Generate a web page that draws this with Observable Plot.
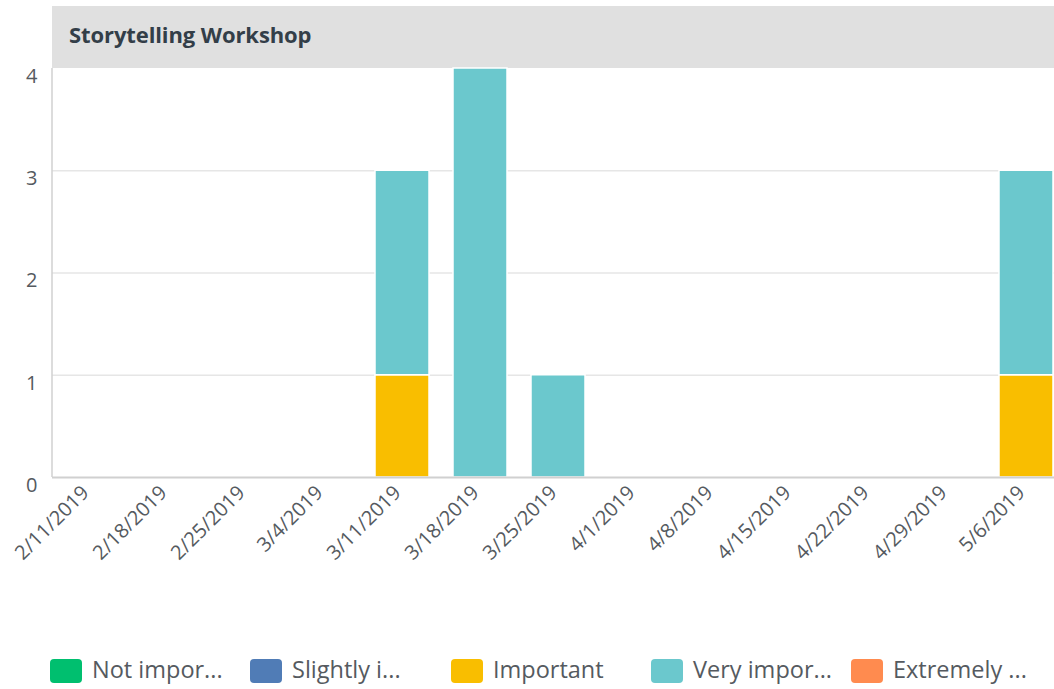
<!DOCTYPE html>
<html>
<head>
<meta charset="utf-8">
<script src="https://cdn.jsdelivr.net/npm/d3@7"></script>
<script src="https://cdn.jsdelivr.net/npm/@observablehq/plot@0.6"></script>
<style>
  html, body { margin: 0; padding: 0; background: #fff; overflow: hidden; }
  body { width: 1054px; height: 689px; position: relative; font-family: "Open Sans", sans-serif; }
  #header { position: absolute; left: 52px; top: 6px; width: 1002px; height: 62px; background: #e0e0e0; }
  #header span { position: absolute; left: 17px; top: 13px; font-size: 22px; font-weight: 700; color: #333e48; letter-spacing: -0.1px; }
  #chart { position: absolute; left: 0; top: 0; }
  #legend { position: absolute; left: 0; top: 653px; width: 1054px; height: 30px; }
  .item { position: absolute; top: 0; display: flex; align-items: center; }
  .sw { width: 32px; height: 24px; border-radius: 4px; margin-right: 10px; margin-top: 3px; }
  .lab { font-size: 23.5px; color: #555a60; white-space: nowrap; }
</style>
</head>
<body>
<div id="header"><span></span></div>
<div id="chart"></div>
<div id="legend"></div>
<script>
const title = "Storytelling Workshop";
const weeks = ["2/11/2019","2/18/2019","2/25/2019","3/4/2019","3/11/2019","3/18/2019","3/25/2019","4/1/2019","4/8/2019","4/15/2019","4/22/2019","4/29/2019","5/6/2019"];
const levels = ["Not important","Slightly important","Important","Very important","Extremely important"];
const legendLabels = ["Not impor...","Slightly i...","Important","Very impor...","Extremely ..."];
const levelColors = ["#00bf6f","#507cb6","#f9be00","#6bc8cd","#ff8b4f"];
const notImportant      = [0,0,0,0,0,0,0,0,0,0,0,0,0];
const slightlyImportant = [0,0,0,0,0,0,0,0,0,0,0,0,0];
const important         = [0,0,0,0,1,0,0,0,0,0,0,0,1];
const veryImportant     = [0,0,0,0,2,4,1,0,0,0,0,0,2];
const extremelyImportant= [0,0,0,0,0,0,0,0,0,0,0,0,0];
const yTicks = [0,1,2,3,4];
const gridTicks = [1,2,3];

const series = [notImportant, slightlyImportant, important, veryImportant, extremelyImportant];
const rows = [];
series.forEach((vals, i) => vals.forEach((v, j) => rows.push({week: weeks[j], level: levels[i], count: v})));

document.querySelector("#header span").textContent = title;

const plot = Plot.plot({
  width: 1054,
  height: 600,
  marginTop: 68,
  marginBottom: 123,
  marginLeft: 52,
  marginRight: 0,
  style: {fontFamily: "Open Sans, sans-serif", fontSize: "20px", color: "#555a60", overflow: "visible"},
  x: {domain: weeks, range: [51, 1065], paddingInner: 0.3077, paddingOuter: 0.154, round: false, label: null},
  y: {domain: [0, 4], label: null},
  color: {domain: levels, range: levelColors},
  marks: [
    Plot.gridY(gridTicks, {stroke: "#e6e6e6", strokeOpacity: 1, strokeWidth: 1.5}),
    Plot.barY(rows.filter(d => d.count > 0), {x: "week", y: "count", fill: "level", stroke: "#fff", strokeWidth: 1.5}),
    Plot.axisY(yTicks, {tickSize: 0, tickPadding: 15, tickFormat: d3.format("d"), dy: 8, label: null, fontSize: 20, fill: "#555a60"}),
    Plot.axisX({tickSize: 0, tickRotate: -45, tickPadding: 2, dx: -5, dy: 10, label: null, fontSize: 20, fill: "#555a60"}),
    Plot.ruleY([0], {stroke: "#d0d0d0", strokeWidth: 2}),
  ]
});
document.getElementById("chart").appendChild(plot);

// left axis line along the frame edge, positioned from the y scale
const ys = plot.scale("y");
d3.select(plot).append("line")
  .attr("x1", 52).attr("x2", 52)
  .attr("y1", ys.apply(0)).attr("y2", ys.apply(4))
  .attr("stroke", "#d0d0d0").attr("stroke-width", 1.5);

const legend = document.getElementById("legend");
const lefts = [50, 250, 451, 651, 851];
levels.forEach((l, i) => {
  const it = document.createElement("div");
  it.className = "item";
  it.style.left = lefts[i] + "px";
  it.innerHTML = `<div class="sw" style="background:${levelColors[i]}"></div><span class="lab">${legendLabels[i]}</span>`;
  legend.appendChild(it);
});
</script>
</body>
</html>
